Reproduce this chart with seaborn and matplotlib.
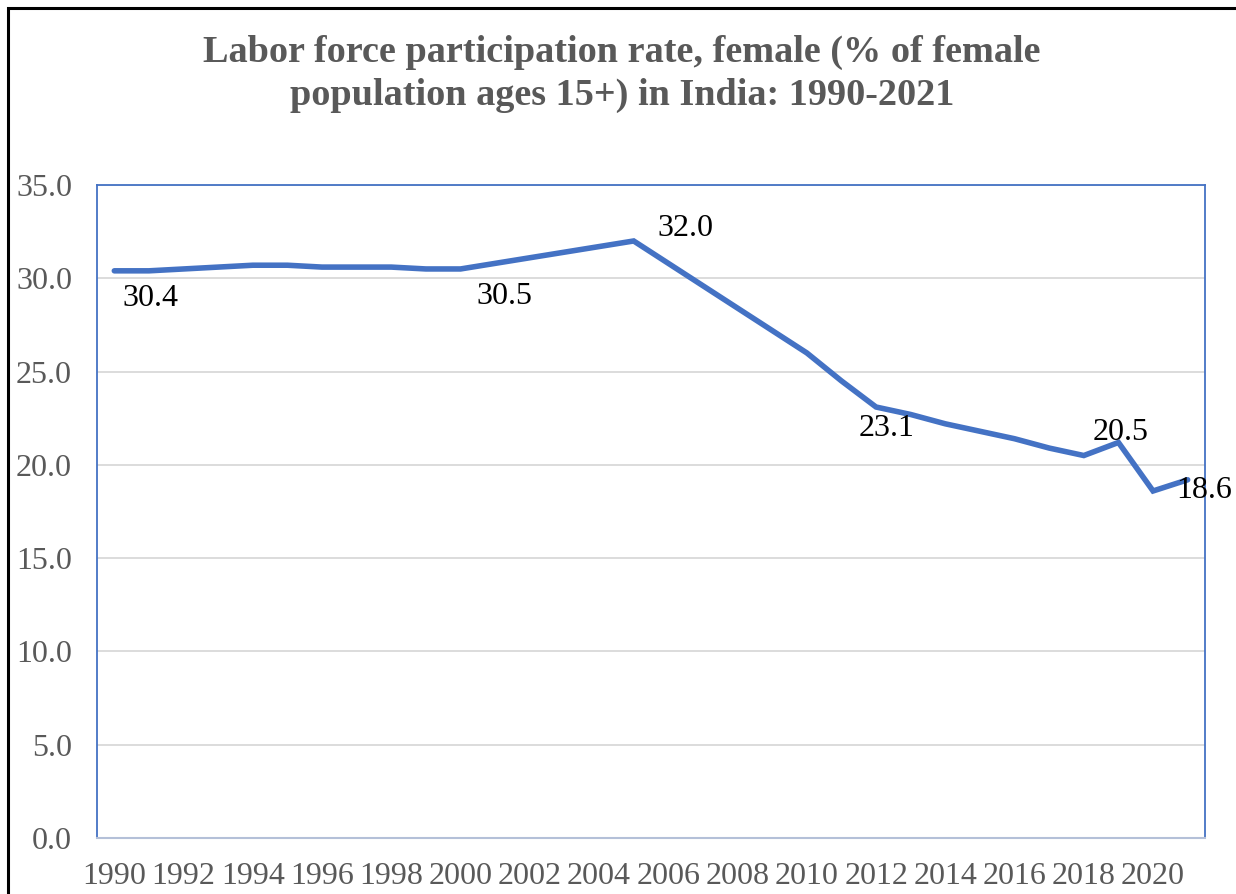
import matplotlib
matplotlib.use("Agg")
import matplotlib.pyplot as plt
import seaborn as sns
import pandas as pd
from matplotlib.patches import Rectangle

years = list(range(1990, 2022))
rate = [30.4, 30.4, 30.5, 30.6, 30.7, 30.7, 30.6, 30.6, 30.6, 30.5,
        30.5, 30.8, 31.1, 31.4, 31.7, 32.0, 30.8, 29.6, 28.4, 27.2,
        26.0, 24.5, 23.1, 22.7, 22.2, 21.8, 21.4, 20.9, 20.5, 21.2,
        18.6, 19.2]
label_years = [1990, 2000, 2005, 2012, 2018, 2020]
label_offsets = [(36, -28), (44, -28), (52, 12), (10, -21), (37, 23), (51, 0)]
xtick_years = list(range(1990, 2021, 2))
ytick_vals = [0, 5, 10, 15, 20, 25, 30, 35]
title = "Labor force participation rate, female (% of female\npopulation ages 15+) in India: 1990-2021"

df = pd.DataFrame({"year": years, "rate": rate})

sns.set_theme(style="white")
plt.rcParams["font.family"] = ["Liberation Serif", "DejaVu Serif"]

fig = plt.figure(figsize=(12.36, 8.94), dpi=100)
ax = fig.add_axes([97/1236, 56/894, 1108/1236, 653/894])

sns.lineplot(data=df, x="year", y="rate", ax=ax, color="#4472C4",
             linewidth=4.0, solid_joinstyle="miter", solid_capstyle="round")

ax.set_xlim(1989.5, 2021.5)
ax.set_ylim(0, 35)
ax.set_xticks(xtick_years)
ax.set_xticklabels([str(y) for y in xtick_years])
ax.set_yticks(ytick_vals)
ax.set_yticklabels([f"{v:.1f}" for v in ytick_vals])
ax.set_xlabel("")
ax.set_ylabel("")
ax.tick_params(axis="both", length=0, labelcolor="#595959")
ax.tick_params(axis="y", pad=18, labelsize=23)
ax.tick_params(axis="x", pad=17, labelsize=23)
ax.yaxis.grid(True, color="#D9D9D9", linewidth=1.3)
ax.xaxis.grid(False)
ax.set_axisbelow(True)
for side in ["left", "top", "right"]:
    ax.spines[side].set_color("#4472C4")
    ax.spines[side].set_linewidth(1.3)
ax.spines["bottom"].set_color("#B4C0D8")
ax.spines["bottom"].set_linewidth(1.5)

for yr, (dx, dy) in zip(label_years, label_offsets):
    v = rate[years.index(yr)]
    ax.annotate(f"{v:.1f}", xy=(yr, v), xytext=(dx, dy), textcoords="offset pixels",
                ha="center", va="center", fontsize=23, color="black",
                annotation_clip=False)

fig.text(0.503, 1 - 74/894, title, ha="center", va="center", fontsize=27.5,
         fontweight="bold", color="#595959", linespacing=1.3)

fig.patches.append(Rectangle((8/1236, -0.05), 1.2, 1 - 8/894 + 0.05,
                             transform=fig.transFigure, fill=False,
                             edgecolor="black", linewidth=2.2))

fig.savefig("out.png", dpi=100)
